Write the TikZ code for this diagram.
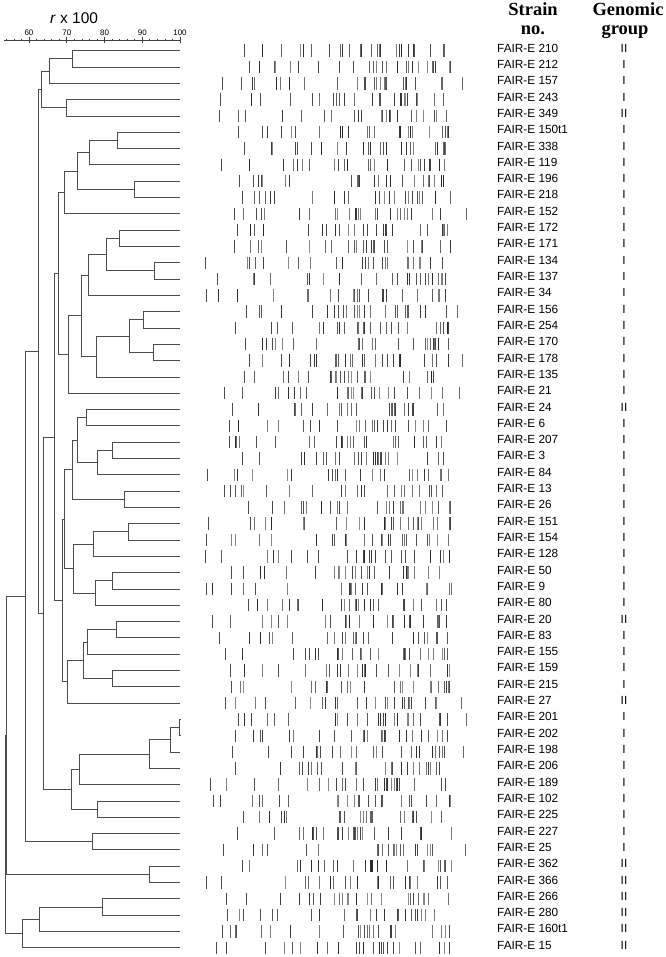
\documentclass[tikz,border=0pt]{standalone}
\usepackage{fontspec}
\setmainfont{Liberation Serif}
\setsansfont{Liberation Sans}
\usetikzlibrary{calc}

% one join of the dendrogram: name, x, first child, second child
\newcommand\dnode[4]{%
  \path let \p1=(#3), \p2=(#4) in coordinate (#1) at (#2pt,{0.5*\y1+0.5*\y2});
  \draw[tree] (#3) -| (#1);
  \draw[tree] (#4) -| (#1);
}

\begin{document}
\begin{tikzpicture}[x=1pt, y=-1pt, line cap=butt,
  tree/.style={draw=black!70, line width=.8pt},
  axisline/.style={draw=black!75, line width=.7pt},
  band/.style={line width=1pt},
  strain/.style={anchor=base west, inner sep=0pt, font=\sffamily\fontsize{11.8}{11.8}\selectfont},
  group/.style={anchor=base, inner sep=0pt, font=\sffamily\fontsize{11.8}{11.8}\selectfont},
  head/.style={anchor=base, inner sep=0pt, font=\bfseries\fontsize{18.5}{18.5}\selectfont}]
  \useasboundingbox (0,0) rectangle (665,957);

  % scale
  \draw[axisline] (4,40) -- (180,40);
  \foreach \v in {54,56,...,100}
    \draw[axisline] ({29+(\v-60)*3.775},38.6) -- ({29+(\v-60)*3.775},41.4);
  \foreach \v in {60,70,...,100}{
    \draw[axisline] ({29+(\v-60)*3.775},37.4) -- ({29+(\v-60)*3.775},42.6);
    \node[anchor=base, inner sep=0pt, font=\sffamily\fontsize{8}{8}\selectfont] (t\v) at ({29+(\v-60)*3.775},36) {\v};
  }
  \node[anchor=base west, inner sep=0pt, font=\sffamily\fontsize{15.5}{15.5}\selectfont] (rlabel) at (50,24) {\textit{r} x 100};

  % headings
  \node[head] (hstrain) at (533,15.5) {Strain};
  \node[head] (hno) at (533,34.5) {no.};
  \node[head] (hgen) at (628,15.5) {Genomic};
  \node[head] (hgroup) at (625,34.5) {group};

  % leaves, strain numbers and genomic groups
  \foreach \n/\g [count=\r from 0] in {210/II,212/I,157/I,243/I,349/II,150t1/I,338/I,119/I,196/I,
      218/I,152/I,172/I,171/I,134/I,137/I,34/I,156/I,254/I,170/I,178/I,135/I,21/I,24/II,6/I,207/I,
      3/I,84/I,13/I,26/I,151/I,154/I,128/I,50/I,9/I,80/I,20/II,83/I,155/I,159/I,215/I,27/II,
      201/I,202/I,198/I,206/I,189/I,102/I,225/I,227/I,25/I,362/II,366/II,266/II,280/II,160t1/II,15/II}{
    \coordinate (l\r) at (180,{50.7+16.31*\r});
    \node[strain] (s\r) at (497,{52.2+16.31*\r}) {FAIR-E \n};
    \node[group] (g\r) at (624,{52.2+16.31*\r}) {\g};
  }

  % dendrogram
  \dnode{a1}{72}{l0}{l1}
  \dnode{a2}{49}{a1}{l2}
  \dnode{a3}{66}{l3}{l4}
  \dnode{a4}{41}{a2}{a3}
  \dnode{b1}{117}{l5}{l6}
  \dnode{b2}{89}{b1}{l7}
  \dnode{b3}{134}{l8}{l9}
  \dnode{b4}{77}{b2}{b3}
  \dnode{b5}{64}{b4}{l10}
  \dnode{c1}{119}{l11}{l12}
  \dnode{c2}{154}{l13}{l14}
  \dnode{c3}{106}{c1}{c2}
  \dnode{c4}{88}{c3}{l15}
  \dnode{c5}{143}{l16}{l17}
  \dnode{c6}{153}{l18}{l19}
  \dnode{c7}{129}{c5}{c6}
  \dnode{c8}{96}{c7}{l20}
  \dnode{c9}{81}{c4}{c8}
  \dnode{c10}{68}{c9}{l21}
  \dnode{b6}{58}{b5}{c10}
  \dnode{d1}{86}{l22}{l23}
  \dnode{d2}{112}{l24}{l25}
  \dnode{d3}{97}{d2}{l26}
  \dnode{d4}{77}{d1}{d3}
  \dnode{d5}{124}{l27}{l28}
  \dnode{d6}{72}{d4}{d5}
  \dnode{e1}{128}{l29}{l30}
  \dnode{e2}{93}{e1}{l31}
  \dnode{e3}{112}{l32}{l33}
  \dnode{e4}{95}{e3}{l34}
  \dnode{e5}{73}{e2}{e4}
  \dnode{d7}{64}{d6}{e5}
  \dnode{f1}{116}{l35}{l36}
  \dnode{f2}{87}{f1}{l37}
  \dnode{f3}{112}{l38}{l39}
  \dnode{f4}{83}{f2}{f3}
  \dnode{f5}{67}{f4}{l40}
  \dnode{d8}{62}{d7}{f5}
  \dnode{b7}{54}{b6}{d8}
  \dnode{k1}{179.5}{l41}{l42}
  \dnode{k2}{170}{k1}{l43}
  \dnode{k3}{149}{k2}{l44}
  \dnode{k4}{79}{k3}{l45}
  \dnode{k5}{97}{l46}{l47}
  \dnode{k6}{71}{k4}{k5}
  \dnode{b8}{43}{b7}{k6}
  \dnode{a5}{38}{a4}{b8}
  \dnode{h1}{92}{l48}{l49}
  \dnode{a6}{25}{a5}{h1}
  \dnode{i1}{149}{l50}{l51}
  \dnode{a7}{6}{a6}{i1}
  \dnode{j1}{102}{l52}{l53}
  \dnode{j2}{39}{j1}{l54}
  \dnode{j3}{22}{j2}{l55}
  \dnode{root}{5}{a7}{j3}

  % band patterns
  \pgfmathsetseed{4217}
  \foreach \r in {0,...,55}{
    \pgfmathsetmacro\yb{50.7+16.31*\r}
    \pgfmathsetmacro\xs{205+rnd*45}
    \draw[band, black!70] (\xs,\yb-6.2) -- (\xs,\yb+6.2);
    \foreach \k in {1,...,7}{
      \pgfmathsetmacro\bx{\xs+6+rnd*(335-\xs)}
      \pgfmathtruncatemacro\bg{45+rnd*40}
      \draw[band, black!\bg] (\bx,\yb-6.2) -- (\bx,\yb+6.2);
    }
    \foreach \k in {1,...,17}{
      \pgfmathsetmacro\bx{335+rnd*117}
      \pgfmathtruncatemacro\bg{45+rnd*40}
      \draw[band, black!\bg] (\bx,\yb-6.2) -- (\bx,\yb+6.2);
    }
    \pgfmathtruncatemacro\far{rnd<0.2 ? 1 : 0}
    \ifnum\far=1
      \pgfmathsetmacro\bx{456+rnd*12}
      \draw[band, black!60] (\bx,\yb-6.2) -- (\bx,\yb+6.2);
    \fi
  }
\end{tikzpicture}
\end{document}
